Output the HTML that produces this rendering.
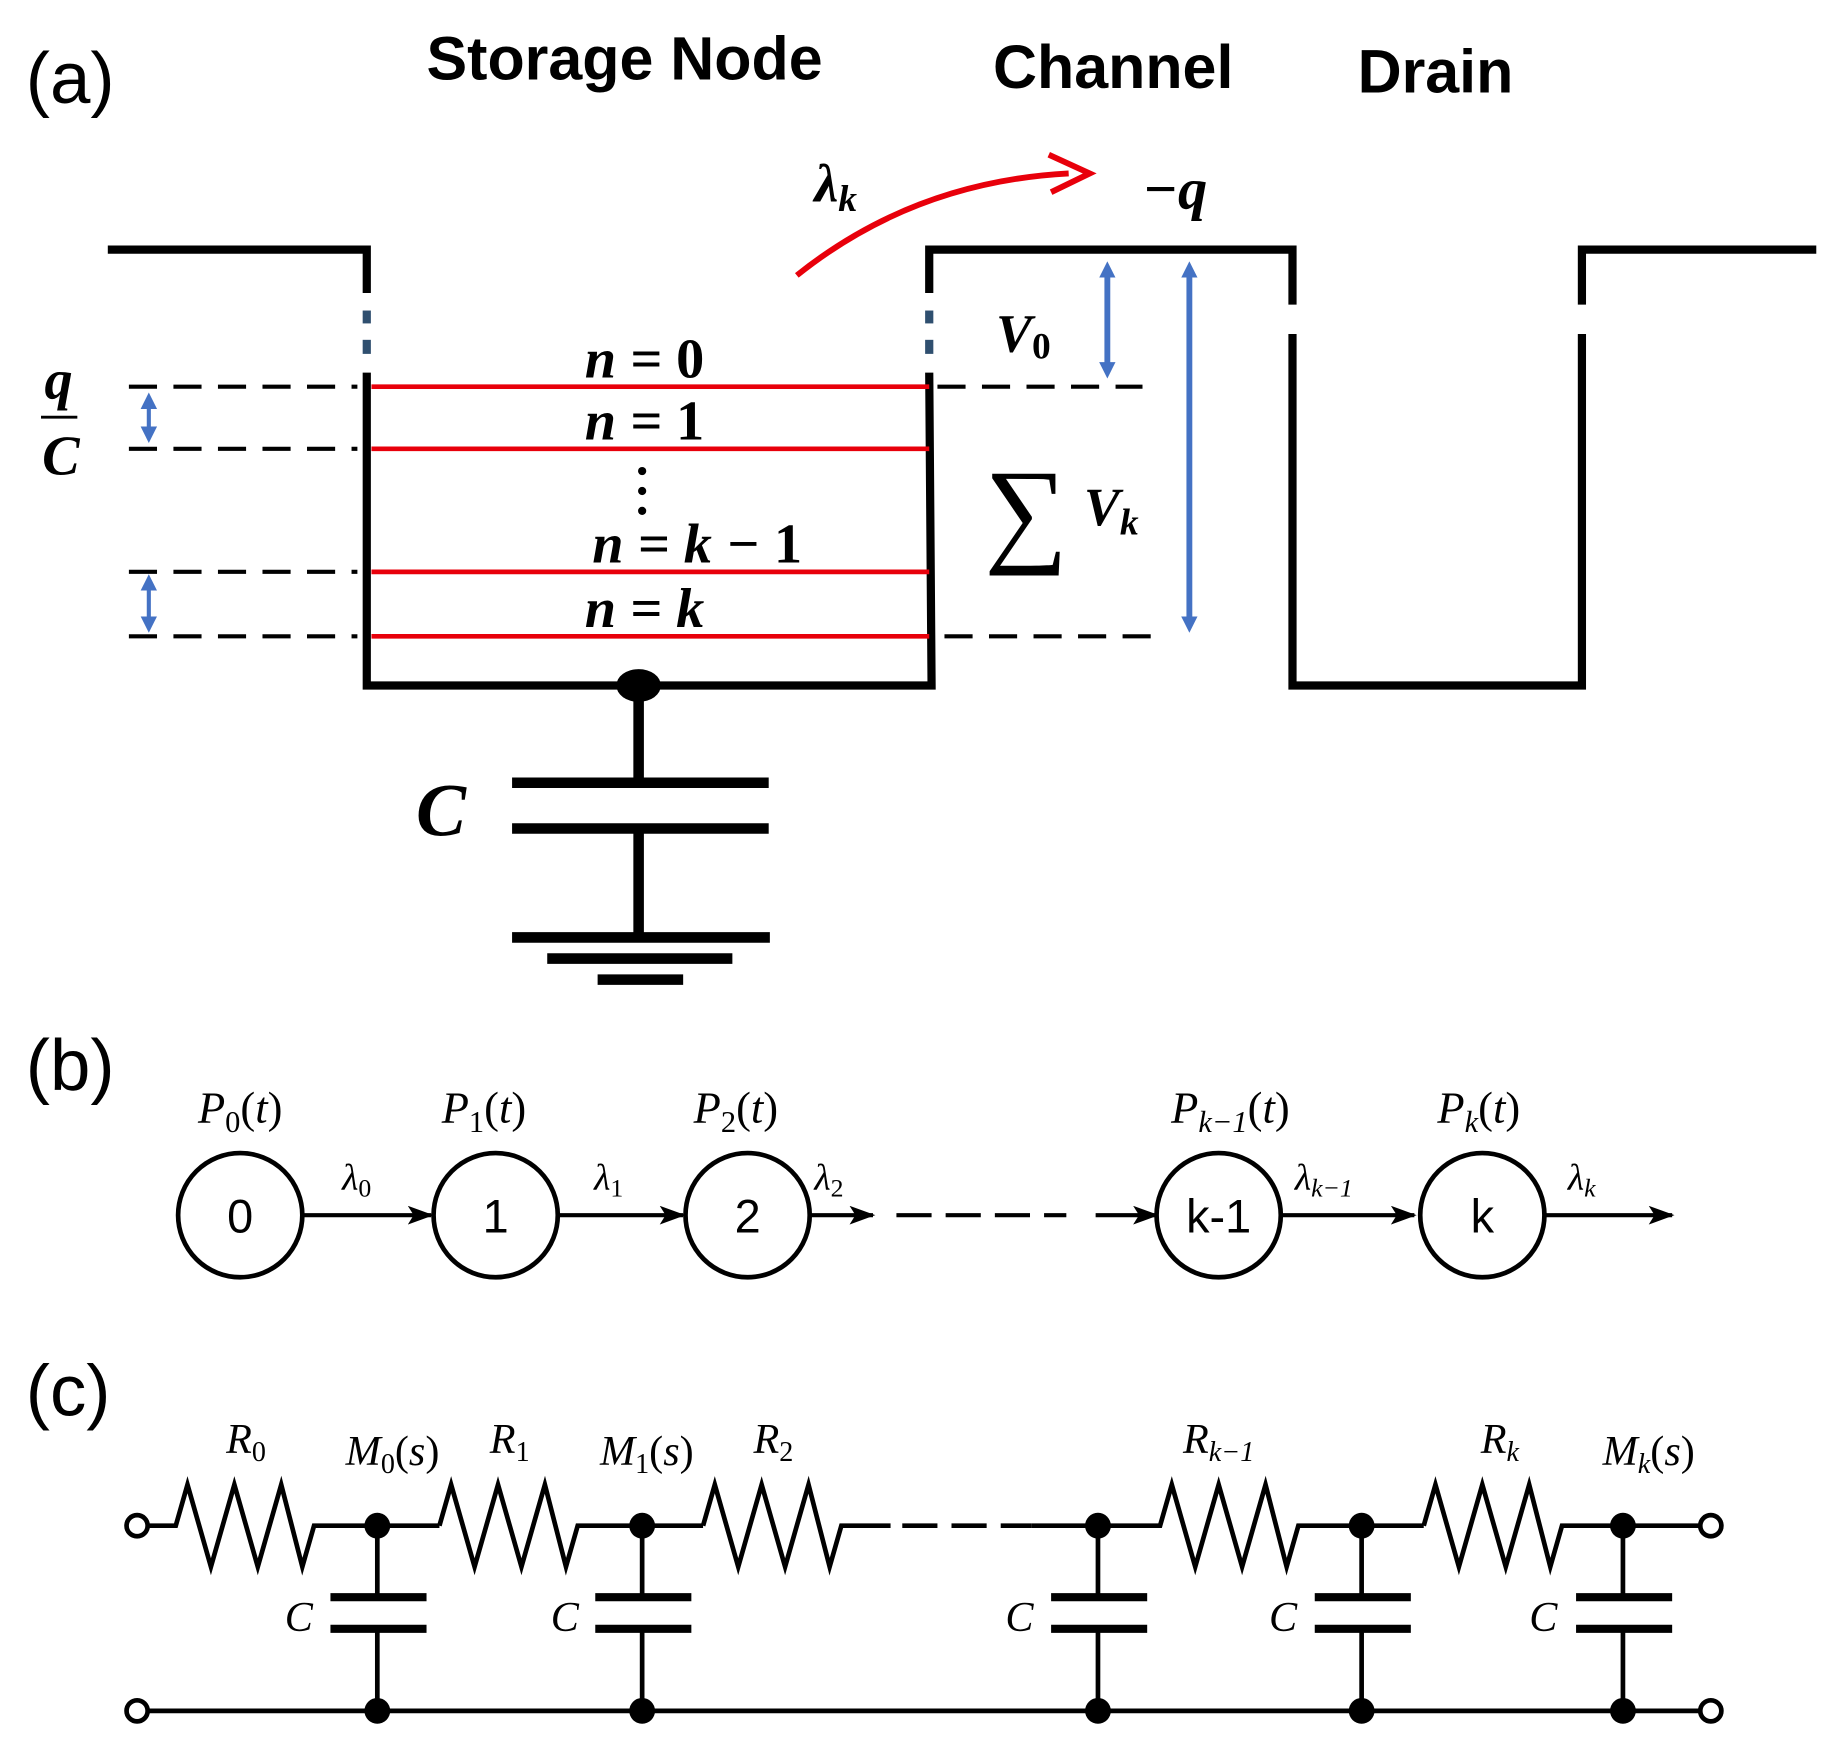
<!DOCTYPE html>
<html><head><meta charset="utf-8"><style>
html,body{margin:0;padding:0;background:#fff}
svg{display:block}
.lab{font-family:"Liberation Sans",sans-serif}
.m{font-family:"Liberation Serif",serif;font-style:italic}
.mb{font-family:"Liberation Serif",serif;font-style:italic;font-weight:bold}
</style></head><body>
<svg width="1828" height="1746" viewBox="0 0 1560 1490" preserveAspectRatio="none" xmlns="http://www.w3.org/2000/svg">
<defs>
<marker id="ab" markerWidth="14" markerHeight="14" refX="7" refY="7" orient="auto-start-reverse" markerUnits="userSpaceOnUse"><path d="M0,0 L14,7 L0,14 Z" fill="#4472c4"/></marker>
<marker id="ak" markerWidth="22" markerHeight="16" refX="20" refY="8" orient="auto" markerUnits="userSpaceOnUse"><path d="M0,0 L22,8 L0,16 L5,8 Z" fill="#000"/></marker>
</defs>
<g class="lab" font-size="62">
<text x="22" y="88">(a)</text><text x="22" y="930">(b)</text><text x="22" y="1208">(c)</text>
</g>
<g class="lab" font-weight="bold" font-size="52" text-anchor="middle">
<text x="533" y="68">Storage Node</text><text x="950" y="75">Channel</text><text x="1225" y="79">Drain</text>
</g>
<g stroke="#000" stroke-width="7" fill="none">
<polyline points="92,213 313,213 313,250"/>
<polyline points="313,318 313,585 795,585 793,318"/>
<polyline points="793,250 793,213 1103,213 1103,260"/>
<polyline points="1103,285 1103,585 1350,585 1350,285"/>
<polyline points="1350,260 1350,213 1550,213"/>
</g>
<g stroke="#2f4f6f" stroke-width="7">
<line x1="313" y1="265" x2="313" y2="276"/><line x1="313" y1="290" x2="313" y2="302"/>
<line x1="793" y1="265" x2="793" y2="276"/><line x1="793" y1="290" x2="793" y2="302"/>
</g>
<g stroke="#000" stroke-width="3.5" stroke-dasharray="24,14">
<line x1="110" y1="330" x2="305" y2="330"/><line x1="110" y1="383" x2="305" y2="383"/>
<line x1="110" y1="488" x2="305" y2="488"/><line x1="110" y1="543" x2="305" y2="543"/>
<line x1="800" y1="330" x2="975" y2="330"/><line x1="806" y1="543" x2="995" y2="543"/>
</g>
<g stroke="#e8000b" stroke-width="4">
<line x1="317" y1="330" x2="793" y2="330"/><line x1="317" y1="383" x2="793" y2="383"/>
<line x1="317" y1="488" x2="793" y2="488"/><line x1="317" y1="543" x2="793" y2="543"/>
</g>
<g stroke="#4472c4" stroke-width="3.5">
<line x1="127" y1="342" x2="127" y2="371" marker-start="url(#ab)" marker-end="url(#ab)"/>
<line x1="127" y1="497" x2="127" y2="533" marker-start="url(#ab)" marker-end="url(#ab)"/>
</g>
<g stroke="#4472c4" stroke-width="5">
<line x1="945" y1="230" x2="945" y2="316" marker-start="url(#ab)" marker-end="url(#ab)"/>
<line x1="1015" y1="230" x2="1015" y2="533" marker-start="url(#ab)" marker-end="url(#ab)"/>
</g>
<path d="M680,235 Q780,155 912,148" stroke="#e8000b" stroke-width="5" fill="none"/>
<path d="M895,132 L930,148 L897,164" stroke="#e8000b" stroke-width="5" fill="none"/>
<g class="mb">
<text x="695" y="172" font-size="46">λ<tspan font-size="32" dy="8">k</tspan></text>
<text x="975" y="178" font-size="50">−q</text>
<text x="850" y="300" font-size="46">V<tspan font-size="32" dy="6" font-style="normal">0</tspan></text>
<text x="840" y="470" font-size="100" font-weight="normal" font-style="normal">∑</text>
<text x="925" y="448" font-size="46">V<tspan font-size="32" dy="8">k</tspan></text>
<text x="38" y="340" font-size="48">q</text>
<text x="36" y="405" font-size="48">C</text>
<text x="355" y="713" font-size="64">C</text>
</g>
<line x1="35" y1="356" x2="66" y2="356" stroke="#000" stroke-width="2.5"/>
<g class="mb" font-size="48" text-anchor="middle">
<text x="550" y="322">n = <tspan font-style="normal">0</tspan></text><text x="550" y="375">n = <tspan font-style="normal">1</tspan></text>
<text x="595" y="480">n = k − <tspan font-style="normal">1</tspan></text><text x="550" y="535">n = k</text>
</g>
<g fill="#000"><circle cx="548" cy="402" r="3.5"/><circle cx="548" cy="419" r="3.5"/><circle cx="548" cy="436" r="3.5"/></g>
<ellipse cx="545" cy="585" rx="19" ry="14" fill="#000"/>
<g stroke="#000" stroke-width="9">
<line x1="545" y1="585" x2="545" y2="668"/>
<line x1="437" y1="668" x2="656" y2="668"/><line x1="437" y1="707" x2="656" y2="707"/>
<line x1="545" y1="707" x2="545" y2="800"/>
<line x1="437" y1="800" x2="657" y2="800"/><line x1="467" y1="818" x2="625" y2="818"/><line x1="510" y1="836" x2="583" y2="836"/>
</g>
<g stroke="#000" stroke-width="4" fill="#fff">
<circle cx="205" cy="1037" r="53"/><circle cx="423" cy="1037" r="53"/><circle cx="638" cy="1037" r="53"/>
<circle cx="1040" cy="1037" r="53"/><circle cx="1265" cy="1037" r="53"/>
</g>
<g class="lab" font-size="40" text-anchor="middle">
<text x="205" y="1052">0</text><text x="423" y="1052">1</text><text x="638" y="1052">2</text>
<text x="1040" y="1052">k-1</text><text x="1265" y="1052">k</text>
</g>
<g stroke="#000" stroke-width="3.5">
<line x1="258" y1="1037" x2="368" y2="1037" marker-end="url(#ak)"/>
<line x1="476" y1="1037" x2="583" y2="1037" marker-end="url(#ak)"/>
<line x1="691" y1="1037" x2="745" y2="1037" marker-end="url(#ak)"/>
<line x1="765" y1="1037" x2="910" y2="1037" stroke-dasharray="30,12"/>
<line x1="935" y1="1037" x2="987" y2="1037" marker-end="url(#ak)"/>
<line x1="1093" y1="1037" x2="1207" y2="1037" marker-end="url(#ak)"/>
<line x1="1318" y1="1037" x2="1427" y2="1037" marker-end="url(#ak)"/>
</g>
<g class="m" font-size="38" text-anchor="middle">
<text x="205" y="958">P<tspan font-size="26" dy="8" font-style="normal">0</tspan><tspan dy="-8" font-style="normal">(</tspan>t<tspan font-style="normal">)</tspan></text>
<text x="413" y="958">P<tspan font-size="26" dy="8" font-style="normal">1</tspan><tspan dy="-8" font-style="normal">(</tspan>t<tspan font-style="normal">)</tspan></text>
<text x="628" y="958">P<tspan font-size="26" dy="8" font-style="normal">2</tspan><tspan dy="-8" font-style="normal">(</tspan>t<tspan font-style="normal">)</tspan></text>
<text x="1050" y="958">P<tspan font-size="26" dy="8">k−1</tspan><tspan dy="-8" font-style="normal">(</tspan>t<tspan font-style="normal">)</tspan></text>
<text x="1262" y="958">P<tspan font-size="26" dy="8">k</tspan><tspan dy="-8" font-style="normal">(</tspan>t<tspan font-style="normal">)</tspan></text>
</g>
<g class="m" font-size="32">
<text x="292" y="1015">λ<tspan font-size="22" dy="6" font-style="normal">0</tspan></text>
<text x="507" y="1015">λ<tspan font-size="22" dy="6" font-style="normal">1</tspan></text>
<text x="695" y="1015">λ<tspan font-size="22" dy="6" font-style="normal">2</tspan></text>
<text x="1105" y="1015">λ<tspan font-size="22" dy="6">k−1</tspan></text>
<text x="1338" y="1015">λ<tspan font-size="22" dy="6">k</tspan></text>
</g>
<g stroke="#000" stroke-width="4" fill="none">
<polyline points="125,1302 150,1302 160,1267 180,1337 200,1267 220,1337 240,1267 258,1337 268,1302 375,1302"/>
<polyline points="375,1302 385,1267 405,1337 425,1267 445,1337 465,1267 483,1337 493,1302 600,1302"/>
<polyline points="600,1302 610,1267 630,1337 650,1267 670,1337 690,1267 708,1337 718,1302 760,1302"/>
<line x1="770" y1="1302" x2="880" y2="1302" stroke-dasharray="30,12"/>
<polyline points="880,1302 990,1302 1000,1267 1020,1337 1040,1267 1060,1337 1080,1267 1098,1337 1108,1302 1215,1302"/>
<polyline points="1215,1302 1225,1267 1245,1337 1265,1267 1285,1337 1305,1267 1323,1337 1333,1302 1450,1302"/>
<line x1="125" y1="1460" x2="1450" y2="1460"/>
</g>
<g stroke="#000" stroke-width="4" fill="#fff">
<circle cx="117" cy="1302" r="9"/><circle cx="1460" cy="1302" r="9"/>
<circle cx="117" cy="1460" r="9"/><circle cx="1460" cy="1460" r="9"/>
</g>
<g stroke="#000">
<g stroke-width="4">
<line x1="322" y1="1302" x2="322" y2="1363"/><line x1="322" y1="1390" x2="322" y2="1460"/>
<line x1="548" y1="1302" x2="548" y2="1363"/><line x1="548" y1="1390" x2="548" y2="1460"/>
<line x1="937" y1="1302" x2="937" y2="1363"/><line x1="937" y1="1390" x2="937" y2="1460"/>
<line x1="1162" y1="1302" x2="1162" y2="1363"/><line x1="1162" y1="1390" x2="1162" y2="1460"/>
<line x1="1385" y1="1302" x2="1385" y2="1363"/><line x1="1385" y1="1390" x2="1385" y2="1460"/>
</g>
<g stroke-width="7">
<line x1="282" y1="1363" x2="364" y2="1363"/><line x1="282" y1="1390" x2="364" y2="1390"/>
<line x1="508" y1="1363" x2="590" y2="1363"/><line x1="508" y1="1390" x2="590" y2="1390"/>
<line x1="897" y1="1363" x2="979" y2="1363"/><line x1="897" y1="1390" x2="979" y2="1390"/>
<line x1="1122" y1="1363" x2="1204" y2="1363"/><line x1="1122" y1="1390" x2="1204" y2="1390"/>
<line x1="1345" y1="1363" x2="1427" y2="1363"/><line x1="1345" y1="1390" x2="1427" y2="1390"/>
</g>
</g>
<g fill="#000">
<circle cx="322" cy="1302" r="11"/><circle cx="548" cy="1302" r="11"/><circle cx="937" cy="1302" r="11"/><circle cx="1162" cy="1302" r="11"/><circle cx="1385" cy="1302" r="11"/>
<circle cx="322" cy="1460" r="11"/><circle cx="548" cy="1460" r="11"/><circle cx="937" cy="1460" r="11"/><circle cx="1162" cy="1460" r="11"/><circle cx="1385" cy="1460" r="11"/>
</g>
<g class="m" font-size="36">
<text x="243" y="1392">C</text><text x="470" y="1392">C</text><text x="858" y="1392">C</text><text x="1083" y="1392">C</text><text x="1305" y="1392">C</text>
</g>
<g class="m" font-size="36" text-anchor="middle">
<text x="210" y="1240">R<tspan font-size="24" dy="7" font-style="normal">0</tspan></text>
<text x="435" y="1240">R<tspan font-size="24" dy="7" font-style="normal">1</tspan></text>
<text x="660" y="1240">R<tspan font-size="24" dy="7" font-style="normal">2</tspan></text>
<text x="1040" y="1240">R<tspan font-size="24" dy="7">k−1</tspan></text>
<text x="1280" y="1240">R<tspan font-size="24" dy="7">k</tspan></text>
<text x="335" y="1250">M<tspan font-size="24" dy="7" font-style="normal">0</tspan><tspan dy="-7" font-style="normal">(</tspan>s<tspan font-style="normal">)</tspan></text>
<text x="552" y="1250">M<tspan font-size="24" dy="7" font-style="normal">1</tspan><tspan dy="-7" font-style="normal">(</tspan>s<tspan font-style="normal">)</tspan></text>
<text x="1407" y="1250">M<tspan font-size="24" dy="7">k</tspan><tspan dy="-7" font-style="normal">(</tspan>s<tspan font-style="normal">)</tspan></text>
</g>
</svg>
</body></html>
